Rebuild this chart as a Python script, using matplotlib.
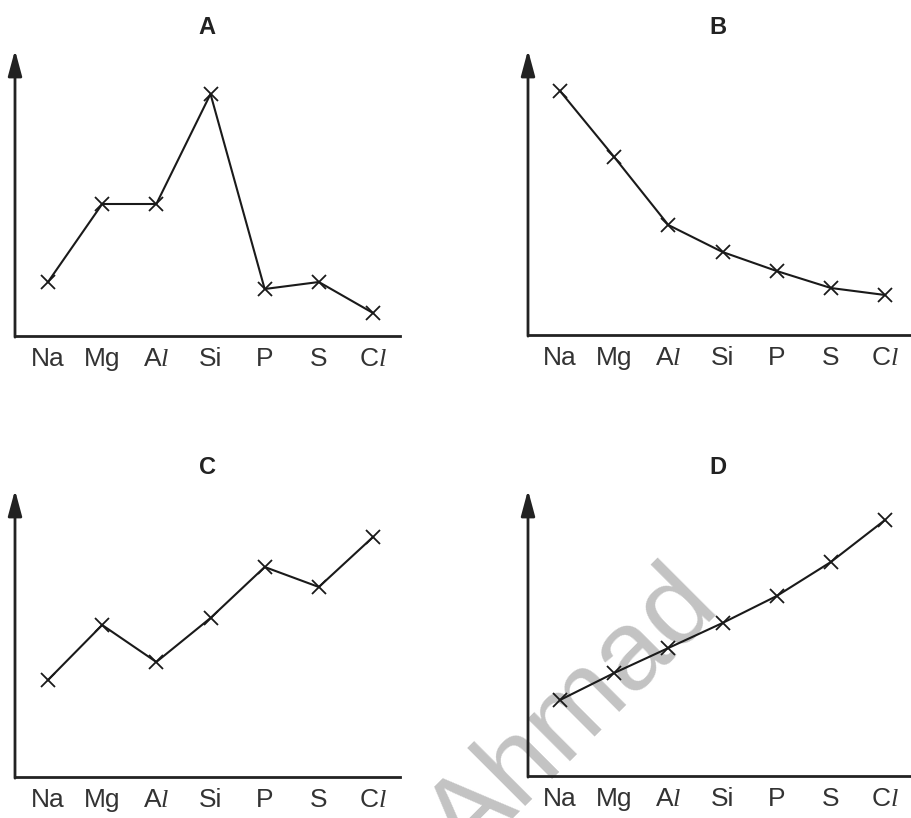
import matplotlib
matplotlib.use("Agg")
import matplotlib.pyplot as plt

plt.rcParams['font.family'] = ['Liberation Sans', 'DejaVu Sans']
plt.rcParams['mathtext.fontset'] = 'custom'
plt.rcParams['mathtext.it'] = 'Liberation Serif:italic'
plt.rcParams['mathtext.rm'] = 'Liberation Sans'

elements = ['Na', 'Mg', r'A$\mathit{l}$', 'Si', 'P', 'S', r'C$\mathit{l}$']
panel_titles = ['A', 'B', 'C', 'D']
values_A = [54, 132, 132, 242, 47, 54, 23]
values_B = [244, 178, 110, 83, 64, 47, 40]
values_C = [97, 152, 115, 159, 210, 190, 240]
values_D = [76, 103, 128, 153, 180, 214, 256]
series = [values_A, values_B, values_C, values_D]

W, H = 911, 818
fig = plt.figure(figsize=(W / 100, H / 100), dpi=100)

# (left_px, right_px, axis_y_px, top_px, first_point_x_px)
boxes = [
    (15, 400, 336, 50, 48),
    (528, 911, 335, 50, 560),
    (15, 400, 777, 490, 48),
    (528, 911, 776, 490, 560),
]
title_pos = [(207, 27), (718, 27), (207, 467), (718, 467)]
spacing = 54.17

for vals, (l, r, yb, yt, x0), title, (tx, ty) in zip(series, boxes, panel_titles, title_pos):
    ax = fig.add_axes([l / W, (H - yb) / H, (r - l) / W, (yb - yt) / H])
    ax.set_xlim((l - x0) / spacing, (r - x0) / spacing)
    ax.set_ylim(0, yb - yt)
    ax.plot(range(len(vals)), vals, color='#1a1a1a', lw=1.5, marker='x',
            markersize=10, markeredgewidth=1.3)
    for s in ['top', 'right', 'left']:
        ax.spines[s].set_visible(False)
    ax.spines['bottom'].set_linewidth(2)
    ax.spines['bottom'].set_color('#222222')
    ax.annotate('', xy=(0, 1), xytext=(0, -0.004), xycoords='axes fraction',
                arrowprops=dict(arrowstyle='-|>,head_length=1.3,head_width=0.35',
                                color='#222222', lw=2, mutation_scale=12,
                                shrinkA=0, shrinkB=0))
    ax.set_xticks(range(len(elements)))
    ax.set_xticklabels(elements, fontsize=19, color='#333333')
    ax.tick_params(axis='x', length=0, pad=8)
    ax.set_yticks([])
    ax.patch.set_alpha(0)
    fig.text(tx / W, 1 - ty / H, title, fontsize=17, fontweight='bold',
             ha='center', va='center', color='#222222')

fig.text(722 / W, 1 - 609 / H, 'Ahmad', fontsize=82, color='#c3c3c3',
         rotation=45, rotation_mode='anchor', ha='right', va='baseline',
         zorder=-1)

fig.savefig('out.png', dpi=100)
